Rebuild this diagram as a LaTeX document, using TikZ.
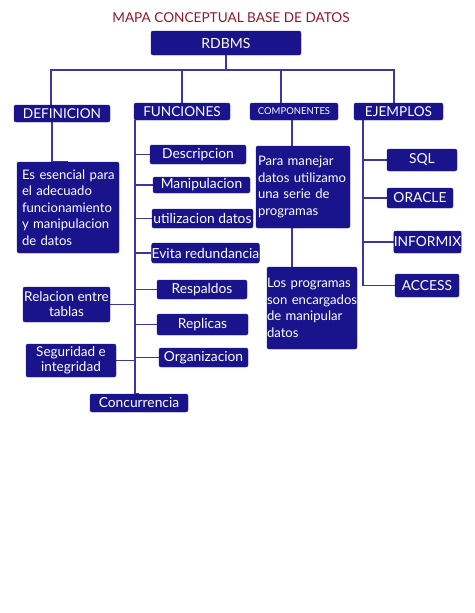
\documentclass[tikz,border=0pt]{standalone}
\usepackage{fontspec}
\setmainfont{Lato}
\usepackage{tikz}
\usetikzlibrary{positioning,backgrounds,calc}
\definecolor{azulCaja}{RGB}{26,20,140}
\definecolor{azulLinea}{RGB}{62,52,165}
\definecolor{rojoTitulo}{RGB}{140,25,40}

\begin{document}
\begin{tikzpicture}[x=1pt, y=-1pt,
  caja/.style={rounded corners=2pt, fill=azulCaja, draw=azulCaja, text=white,
               inner sep=0pt, font=\fontsize{13.8}{15}\selectfont, align=center},
  cabeza/.style={caja, font=\fontsize{13.6}{15}\selectfont},
  texto/.style={caja, align=left, font=\fontsize{13.1}{16.6}\selectfont,
                execute at begin node={\hyphenpenalty=10000\hbadness=10000\hfuzz=50pt}},
  linea/.style={azulLinea, line width=1.2pt}]

  \useasboundingbox (0,0) rectangle (474,613);

  \node[font=\fontsize{13.6}{16}\selectfont, text=rojoTitulo] (titulo) at (231,18)
    {MAPA CONCEPTUAL BASE DE DATOS};

  \node[caja,minimum width=150,minimum height=24,
        font=\fontsize{14}{16}\selectfont] (rdbms) at (226,43) {RDBMS};

  \node[cabeza,minimum width=96,minimum height=17] (def) at (62,113.5) {DEFINICION};
  \node[cabeza,minimum width=96,minimum height=17] (fun) at (182,111.5) {FUNCIONES};
  \node[cabeza,minimum width=88,minimum height=17,
        font=\fontsize{9.5}{11}\selectfont] (comp) at (294,111.5) {COMPONENTES};
  \node[cabeza,minimum width=89,minimum height=17] (ejem) at (398.5,111.5) {EJEMPLOS};

  % definicion
  \node[texto,minimum height=91,text width=92,inner xsep=5pt] (defTexto) at (68,207.5)
    {Es~esencial~para\\el~adecuado\\funcionamiento\\y~manipulacion\\de~datos};

  % funciones
  \node[caja,minimum width=96,minimum height=19] (desc) at (198,154.5) {Descripcion};
  \node[caja,minimum width=97,minimum height=16] (manip) at (201.5,185) {Manipulacion};
  \node[caja,minimum width=101,minimum height=19] (util) at (202.5,218.5) {utilizacion datos};
  \node[caja,minimum width=101,minimum height=20] (evita) at (205.5,253) {Evita redundancia};
  \node[caja,minimum width=90,minimum height=19] (resp) at (202,289.5) {Respaldos};
  \node[caja,minimum width=91,minimum height=21] (repl) at (202.5,324.5) {Replicas};
  \node[caja,minimum width=89,minimum height=19] (org) at (203.5,357.5) {Organizacion};
  \node[caja,minimum width=87,minimum height=35,
        font=\fontsize{13.5}{15}\selectfont] (rel) at (66.5,304.5) {Relacion entre\\tablas};
  \node[caja,minimum width=90,minimum height=33,
        font=\fontsize{13.5}{15}\selectfont] (seg) at (71,360.5) {Seguridad e\\integridad};
  \node[caja,minimum width=98,minimum height=18] (conc) at (139,403) {Concurrencia};

  % componentes
  \node[texto,minimum height=82,text width=90,inner xsep=2pt] (para) at (303,187)
    {Para~manejar\\datos~utilizamo\\una~serie~de\\programas};
  \node[texto,minimum height=82,text width=90] (los) at (312,308)
    {Los~programas\\son~encargados\\de~manipular\\datos};

  % ejemplos
  \node[caja,minimum width=70,minimum height=22] (sql) at (422,160) {SQL};
  \node[caja,minimum width=66,minimum height=20] (oracle) at (420,198) {ORACLE};
  \node[caja,minimum width=67,minimum height=22] (informix) at (427.5,242) {INFORMIX};
  \node[caja,minimum width=64,minimum height=23] (access) at (427,285.5) {ACCESS};

  \begin{scope}[on background layer]
    \coordinate (bus) at (226,70);
    \coordinate (ejeF) at (135,0);
    \coordinate (ejeC) at (292,0);
    \coordinate (ejeE) at (363,0);

    \draw[linea] (rdbms.south) -- (bus);
    \draw[linea] ([xshift=-11pt]def.north) |- (bus) -| ([xshift=-4.5pt]ejem.north);
    \draw[linea] (bus -| fun.north) -- (fun.north);
    \draw[linea] (comp.north -| 281,0) |- (bus);

    \draw[linea] ([xshift=-10pt]def.south) |- (defTexto.north);

    \draw[linea] (fun.south -| ejeF) |- (conc.north);
    \foreach \n in {desc,manip,util,evita,resp,repl,org}
      \draw[linea] (\n.west) -- (\n.west -| ejeF);
    \foreach \n in {rel,seg}
      \draw[linea] (\n.east) -- (\n.east -| ejeF);

    \draw[linea] (comp.south -| ejeC) -- (para.north -| ejeC);
    \draw[linea] (para.south -| ejeC) -- (los.north -| ejeC);

    \draw[linea] (ejem.south -| ejeE) |- (access.west);
    \foreach \n in {sql,oracle,informix}
      \draw[linea] (\n.west) -- (\n.west -| ejeE);
  \end{scope}
\end{tikzpicture}
\end{document}
